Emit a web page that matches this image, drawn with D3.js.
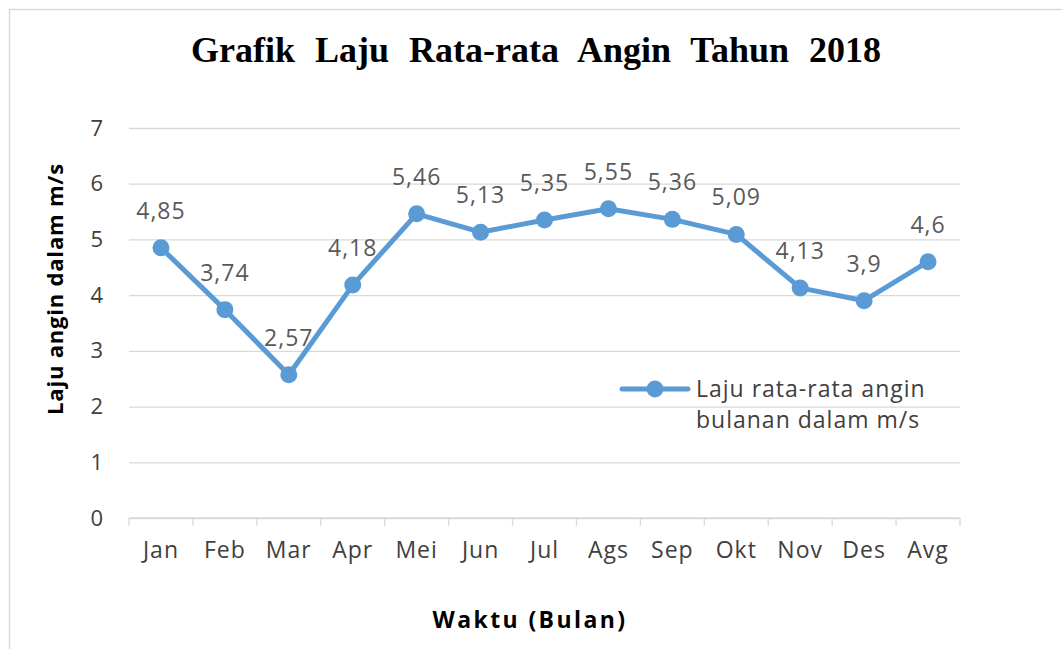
<!DOCTYPE html>
<html>
<head>
    <title>Grafik Laju Rata-rata Angin</title>
    <script src="https://cdn.jsdelivr.net/npm/d3@7/dist/d3.min.js"></script>
    <style>
        body { margin: 0; background: #fff; }
    </style>
</head>
<body>
    <svg width="1062" height="649" id="mainsvg"></svg>
    <script>
        const months = ['Jan', 'Feb', 'Mar', 'Apr', 'Mei', 'Jun', 'Jul', 'Ags', 'Sep', 'Okt', 'Nov', 'Des', 'Avg'];
        const speeds = [4.85, 3.74, 2.57, 4.18, 5.46, 5.13, 5.35, 5.55, 5.36, 5.09, 4.13, 3.9, 4.6];
        const yTicks = [0, 1, 2, 3, 4, 5, 6, 7];
        const seriesName = ['Laju rata-rata angin', 'bulanan dalam m/s'];

        const svg = d3.select('#mainsvg');
        const width = +svg.attr('width');
        const height = +svg.attr('height');
        const margin = { top: 128, right: 102, bottom: 131, left: 129 };
        const innerWidth = width - margin.left - margin.right;
        const innerHeight = height - margin.top - margin.bottom;
        const blue = '#5b9bd5';
        const sans = "'Open Sans', 'Liberation Sans', sans-serif";

        // chart frame (only top and left edges are visible)
        svg.append('path')
            .attr('d', `M9.5,${height} V9.5 H${width}`)
            .attr('fill', 'none').attr('stroke', '#d9d9d9').attr('stroke-width', 1.5);

        svg.append('text')
            .attr('x', 536).attr('y', 62)
            .attr('text-anchor', 'middle')
            .attr('font-family', "'Liberation Serif', 'DejaVu Serif', serif")
            .attr('font-weight', 'bold')
            .attr('font-size', 36)
            .attr('word-spacing', 11)
            .attr('fill', '#000')
            .text('Grafik Laju Rata-rata Angin Tahun 2018');

        const g = svg.append('g').attr('id', 'maingroup')
            .attr('transform', `translate(${margin.left}, ${margin.top})`);

        const xScale = d3.scaleBand().domain(months).range([0, innerWidth]);
        const yScale = d3.scaleLinear().domain([0, 7]).range([innerHeight, 0]);

        // gridlines + y labels
        const yAxis = d3.axisLeft(yScale).tickValues(yTicks)
            .tickSize(-innerWidth).tickPadding(26).tickFormat(d3.format('d'));
        const yAxisGroup = g.append('g').call(yAxis);
        yAxisGroup.selectAll('.domain').remove();
        yAxisGroup.selectAll('line').attr('stroke', '#d9d9d9').attr('stroke-width', 1.3);
        yAxisGroup.selectAll('text')
            .attr('font-family', sans).attr('font-size', 22).attr('fill', '#404040');

        // x axis with ticks between categories
        const xAxisGroup = g.append('g').attr('transform', `translate(0, ${innerHeight})`);
        xAxisGroup.append('line')
            .attr('x1', 0).attr('x2', innerWidth)
            .attr('stroke', '#d9d9d9').attr('stroke-width', 1.3);
        const tickPos = months.map(m => xScale(m)).concat([innerWidth]);
        xAxisGroup.selectAll('.xtick').data(tickPos).join('line')
            .attr('class', 'xtick')
            .attr('x1', d => d).attr('x2', d => d)
            .attr('y1', 0).attr('y2', 8)
            .attr('stroke', '#d9d9d9').attr('stroke-width', 1.3);
        xAxisGroup.selectAll('.xlabel').data(months).join('text')
            .attr('class', 'xlabel')
            .attr('x', d => xScale(d) + xScale.bandwidth() / 2)
            .attr('y', 40)
            .attr('text-anchor', 'middle')
            .attr('font-family', sans).attr('font-size', 23).attr('letter-spacing', 1)
            .attr('fill', '#404040')
            .text(d => d);

        // axis titles
        g.append('text')
            .attr('transform', 'rotate(-90)')
            .attr('x', -161).attr('y', -66)
            .attr('text-anchor', 'middle')
            .attr('font-family', sans).attr('font-weight', 'bold')
            .attr('font-size', 22).attr('letter-spacing', 0.8).attr('fill', '#000')
            .text('Laju angin dalam m/s');
        g.append('text')
            .attr('x', 401).attr('y', innerHeight + 110)
            .attr('text-anchor', 'middle')
            .attr('font-family', sans).attr('font-weight', 'bold')
            .attr('font-size', 23).attr('letter-spacing', 2.4).attr('fill', '#000')
            .text('Waktu (Bulan)');

        const xc = (d, i) => xScale(months[i]) + xScale.bandwidth() / 2;

        const line = d3.line().x(xc).y(d => yScale(d));
        g.append('path').datum(speeds)
            .attr('d', line)
            .attr('fill', 'none').attr('stroke', blue)
            .attr('stroke-width', 5).attr('stroke-linejoin', 'round');

        g.selectAll('.dot').data(speeds).join('circle')
            .attr('class', 'dot')
            .attr('cx', xc).attr('cy', d => yScale(d))
            .attr('r', 8.5).attr('fill', blue);

        g.selectAll('.vlabel').data(speeds).join('text')
            .attr('class', 'vlabel')
            .attr('x', xc).attr('y', d => yScale(d) - 29)
            .attr('text-anchor', 'middle')
            .attr('font-family', sans).attr('font-size', 23).attr('letter-spacing', 1)
            .attr('fill', '#595959')
            .text(d => String(d).replace('.', ','));

        // legend
        const lg = svg.append('g').attr('transform', 'translate(622, 389)');
        lg.append('line').attr('x1', 0).attr('x2', 66)
            .attr('stroke', blue).attr('stroke-width', 5).attr('stroke-linecap', 'round');
        lg.append('circle').attr('cx', 33).attr('r', 8.5).attr('fill', blue);
        lg.selectAll('text').data(seriesName).join('text')
            .attr('x', 74).attr('y', (d, i) => 8 + i * 31)
            .attr('font-family', sans).attr('font-size', 23).attr('letter-spacing', 1)
            .attr('fill', '#404040')
            .text(d => d);
    </script>
</body>
</html>
